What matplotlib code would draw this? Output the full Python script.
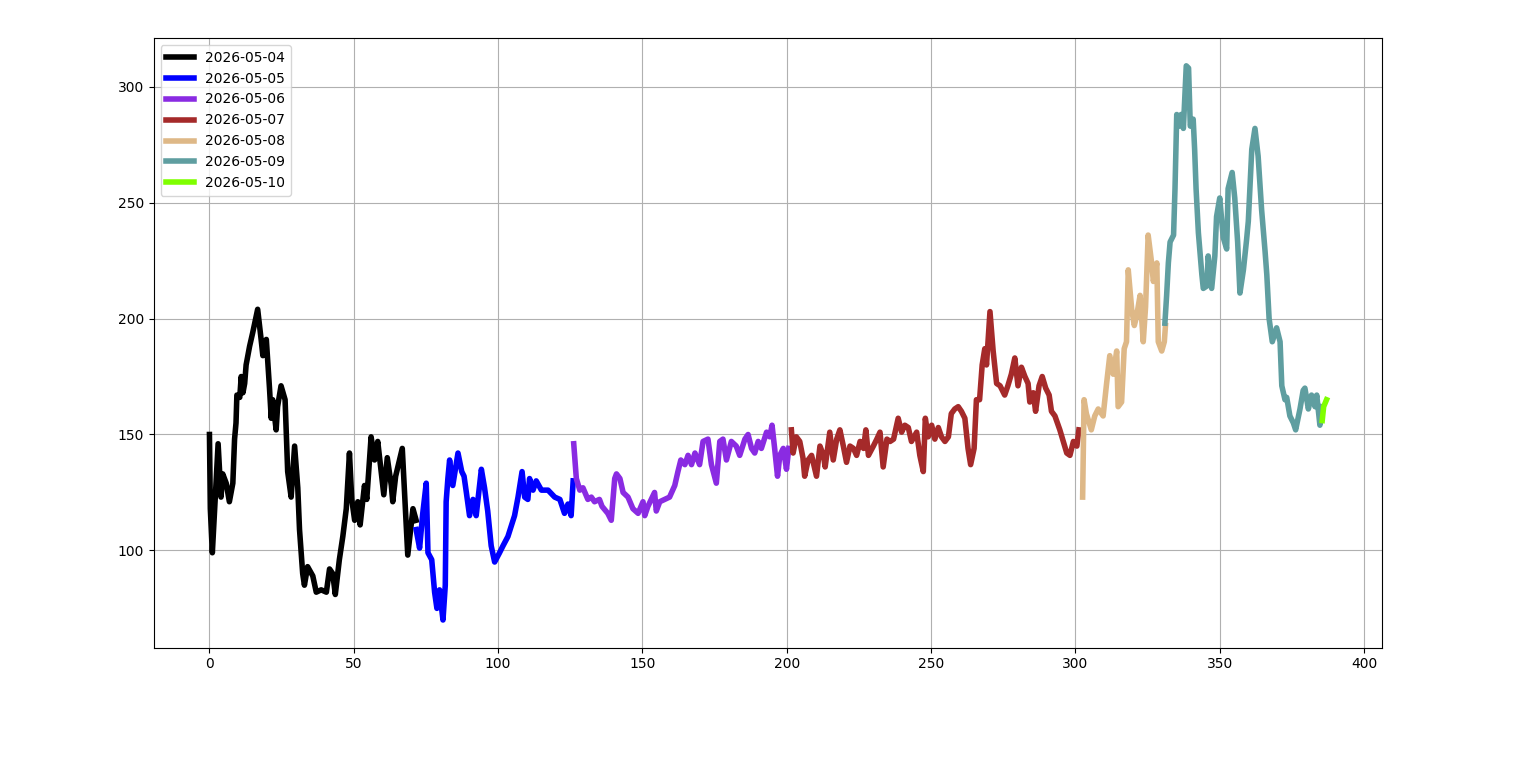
import matplotlib
matplotlib.use("Agg")
import matplotlib.pyplot as plt

days = ["2026-05-04", "2026-05-05", "2026-05-06", "2026-05-07",
        "2026-05-08", "2026-05-09", "2026-05-10"]
colors = ["black", "blue", "blueviolet", "brown", "burlywood", "cadetblue", "chartreuse"]

x_0504 = [0, 0.3, 1, 3, 4, 4.6, 5.8, 6.9, 8.1, 8.7, 9.2, 9.5, 10.5, 11, 11.6, 12.2, 12.7,
          13.9, 15, 16.7, 17.9, 18.5, 19.7, 20.8, 21.4, 21.9, 23.1, 23.6, 24.8, 26.2, 27.1,
          28.3, 29.5, 30.6, 31.2, 32.3, 32.9, 34, 35.8, 37, 38.7, 40.5, 41.6, 42.7, 43.6,
          45, 46.2, 47.4, 48.5, 49.3, 50.3, 51.4, 52.2, 53.7, 54.5, 56, 57.2, 58.3, 60.4,
          61.6, 63, 63.5, 64.5, 66.8, 68.7, 70.5, 71.6]
y_0504 = [150, 118, 99, 146, 123, 133, 129, 121, 129, 148, 155, 167, 166, 175, 168, 172, 180,
          188, 194, 204, 191, 184, 191, 170, 157, 165, 152, 162, 171, 165, 134,
          123, 145, 127, 109, 90, 85, 93, 89, 82, 83, 82, 92, 90, 81,
          96, 106, 118, 142, 122, 113, 121, 111, 128, 122, 149, 139, 147, 124,
          140, 128, 121, 132, 144, 98, 118, 113]

x_0505 = [71.6, 72.8, 73.9, 75.1, 75.7, 77, 78, 78.8, 79.7, 80.9, 81.7, 82, 82.6, 83.2, 84.3,
          86.1, 87.4, 88.2, 89, 90.1, 91.3, 92.4, 94.2, 95.3, 96.4, 97.6, 98.8, 100.5, 101.7,
          103.4, 105.7, 106.9, 108.3, 109.2, 110.3, 110.9, 112.1, 113.2, 115, 117.3, 119.6,
          121.4, 123, 124.2, 125.3, 126]
y_0505 = [109, 101, 116, 129, 99, 96, 82, 75, 83, 70, 85, 121, 131, 139, 128,
          142, 134, 132, 125, 115, 122, 115, 135, 127, 117, 102, 95, 99, 102,
          106, 115, 123, 134, 123, 122, 131, 126, 130, 126, 126, 123,
          122, 116, 120, 115, 130]

x_0506 = [126.2, 127.1, 128.3, 129.4, 131.1, 132.3, 133.4, 135.1, 136, 138, 139.2, 140.4,
          141, 142.2, 143.3, 145, 146.7, 148.5, 150.2, 150.8, 151.9, 154.2, 154.8, 156,
          157.7, 159.4, 161.2, 162.3, 163.3, 164.7, 165.8, 167, 168.2, 169.8, 171, 172.7,
          173.9, 175.6, 176.8, 177.9, 179.1, 180.8, 182.5, 183.7, 185.5, 186.6, 187.8,
          188.9, 190.1, 191.2, 193, 194.1, 194.9, 195.8, 196.8, 197.6, 198.8, 199.9, 200.7]
y_0506 = [146, 131, 126, 127, 122, 123, 121, 122, 119, 116, 113, 131,
          133, 131, 125, 123, 118, 116, 121, 115, 119, 125, 117, 121,
          122, 123, 128, 134, 139, 137, 141, 137, 142, 137, 147, 148,
          137, 129, 147, 148, 139, 147, 145, 141, 148, 150, 144,
          142, 147, 144, 151, 149, 154, 144, 132, 141, 144, 135, 144]

x_0507 = [201.6, 202.2, 203.3, 204.5, 205.6, 206.2, 207.4, 208.6, 210.3, 211.5, 212.7, 213.3,
          214.9, 216.1, 217.3, 218.4, 219.6, 220.7, 221.9, 223.1, 224.2, 225.4, 226.6,
          227.4, 228.3, 230, 231.2, 232.3, 233.4, 234.7, 235.8, 237, 238.6, 239.8, 240.9,
          242.1, 243.2, 245, 246.1, 247.3, 248, 249, 250.2, 251.3, 252.5, 253.6, 254.8,
          256, 257, 258.2, 259.4, 260.5, 261.7, 262.8, 263.7, 264.9, 265.7, 266.8, 267.7,
          268.6, 269.2, 270.4, 271.5, 272.7, 273.9, 275.5, 276.6, 277.8, 279, 280.1,
          281.3, 282.5, 283.6, 284.2, 285.4, 286.2, 287.4, 288.5, 289.7, 290.9, 291.7,
          292.9, 294.6, 295.8, 297, 298.1, 299.3, 300.5, 301.2]
y_0507 = [152, 142, 149, 147, 140, 132, 139, 141, 132, 145, 141, 136,
          151, 139, 148, 152, 145, 138, 145, 144, 141, 147, 144,
          152, 141, 145, 148, 151, 136, 148, 147, 148, 157, 151, 154,
          153, 147, 151, 141, 134, 157, 149, 154, 148, 153, 149, 147,
          149, 159, 161, 162, 160, 157, 144, 137, 144, 165, 165, 180,
          187, 180, 203, 186, 172, 171, 167, 171, 176, 183, 171,
          179, 175, 172, 164, 168, 160, 171, 175, 170, 167, 160,
          158, 152, 147, 142, 141, 147, 145, 152]

x_0508 = [302.5, 303, 303.8, 305.5, 306.7, 307.9, 309.6, 310.8, 311.9, 313.1, 314.3, 314.8,
          316, 316.9, 317.7, 318.3, 319.5, 320.4, 321.2, 322.4, 323.5, 324.3, 325.2,
          326.4, 327, 328.2, 328.7, 329.9, 330.8, 331.2]
y_0508 = [123, 165, 159, 152, 158, 161, 158, 172, 184, 176, 186, 162,
          164, 187, 190, 221, 204, 197, 201, 210, 190, 205, 236,
          224, 216, 224, 190, 186, 190, 197]

x_0509 = [331, 331.6, 332.2, 332.8, 334, 334.5, 335.1, 335.9, 336.6, 337.4, 338.4, 339.2,
          339.8, 340.8, 341.3, 341.8, 342.6, 343.8, 344.3, 345.5, 346, 347.2, 348.3,
          348.9, 350, 351.2, 352.4, 352.9, 354.3, 355.2, 356.2, 357, 358.2, 359.3, 359.9,
          361.1, 362.2, 363.3, 364.5, 365.7, 366.3, 367.1, 368.2, 369.7, 370.9, 371.5,
          372.6, 373.2, 374.3, 375.5, 376.3, 377.8, 378.9, 379.5, 380.7, 381.8, 383,
          383.6, 384.7, 385.3]
y_0509 = [198, 210, 224, 233, 236, 256, 288, 283, 288, 282, 309, 308,
          283, 286, 273, 256, 237, 219, 213, 214, 227, 213, 227,
          244, 252, 235, 230, 256, 263, 252, 233, 211, 221, 234, 242,
          273, 282, 270, 247, 229, 219, 200, 190, 196, 190, 171,
          165, 166, 158, 155, 152, 161, 169, 170, 161, 167, 162,
          167, 154, 162]

x_0510 = [385.5, 386, 387]
y_0510 = [156, 162, 165]

xs = [x_0504, x_0505, x_0506, x_0507, x_0508, x_0509, x_0510]
ys = [y_0504, y_0505, y_0506, y_0507, y_0508, y_0509, y_0510]

fig = plt.figure(figsize=(15.36, 7.62), dpi=100)
ax = fig.add_subplot(111)
fig.subplots_adjust(left=0.1, right=0.9, top=0.95, bottom=0.15)

for x, y, day, c in zip(xs, ys, days, colors):
    ax.plot(x, y, color=c, linewidth=4, label=day)

ax.grid(True)
ax.legend(loc='upper left')

plt.savefig('out.png', dpi=100)
